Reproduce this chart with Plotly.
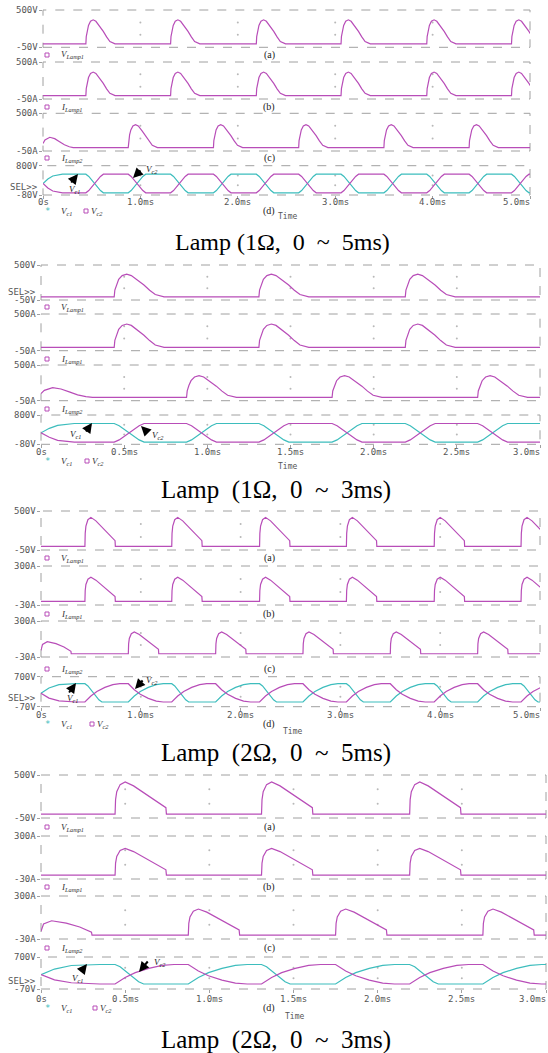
import plotly.graph_objects as go

W, H = 548, 1053
MAG = "#b84db8"
CYA = "#3dbdbd"
FRAME = "#a0a0a0"
TXT = "#555555"
MONO = "DejaVu Sans Mono"
SERIF = "Liberation Serif"

# ---------------- data (times in ms) ----------------
# switching instants that start a Lamp1 pulse / a Lamp2 pulse
lamp1_on_5ms = [0.44, 1.31, 2.19, 3.06, 3.94, 4.81]
lamp2_on_5ms = [0.875, 1.75, 2.625, 3.50, 4.375]
lamp1_on_3ms = [0.44, 1.31, 2.19]
lamp2_on_3ms = [0.875, 1.75, 2.625]

# pulse shape, 1 ohm lamp: time after switching, fraction of the peak
pulse_1ohm_dt = [0.0, 0.004, 0.014, 0.027, 0.048, 0.075, 0.103, 0.144, 0.179, 0.213, 0.247, 0.30]
pulse_1ohm_fr = [0.0, 0.30, 0.55, 0.77, 0.94, 1.00, 0.94, 0.72, 0.52, 0.29, 0.10, 0.0]
# pulse shape, 2 ohm lamp (ends with a step)
pulse_2ohm_dt = [0.0, 0.003, 0.010, 0.030, 0.060, 0.110, 0.170, 0.230, 0.290, 0.302, 0.305]
pulse_2ohm_fr = [0.0, 0.45, 0.70, 0.92, 1.00, 0.88, 0.66, 0.44, 0.24, 0.20, 0.0]

# peaks
peak_1ohm_v, peak_1ohm_i1, peak_1ohm_i2 = 355, 350, 335
peak_2ohm_v, peak_2ohm_i1, peak_2ohm_i2 = 410, 205, 200

# Lamp2 current at the start of the run
ilamp2_start_1ohm_t = [0.0, 0.02, 0.07, 0.12, 0.17, 0.22, 0.27, 0.31]
ilamp2_start_1ohm_v = [60, 110, 150, 130, 85, 40, 12, 0]
ilamp2_start_2ohm_t = [0.0, 0.015, 0.063, 0.15, 0.23, 0.30, 0.303]
ilamp2_start_2ohm_v = [30, 85, 110, 92, 62, 22, 0]

# capacitor voltages: levels and start of run
vc_1ohm_lo, vc_1ohm_hi = -15, 545
vc_1ohm_start_t = [0.0, 0.05, 0.10, 0.20]
vc1_1ohm_start = [265, 400, 490, 545]
vc2_1ohm_start = [265, 130, 40, -15]
vc_2ohm_lo, vc_2ohm_hi = 50, 520
vc_2ohm_start_t = [0.0, 0.08, 0.18, 0.30, 0.35]
vc1_2ohm_start = [275, 410, 495, 520, 520]
vc2_2ohm_start = [275, 150, 80, 55, 50]

# transition shapes (time after switching, fraction of swing done)
tr_1ohm_dt = [0.0, 0.03, 0.15, 0.18]
tr_1ohm_fr = [0.0, 0.12, 0.88, 1.0]
tr_2ohm_fast_dt = [0.0, 0.03, 0.14, 0.17]
tr_2ohm_fast_fr = [0.0, 0.12, 0.88, 1.0]
tr_2ohm_slow_dt = [0.0, 0.06, 0.12, 0.20, 0.28, 0.35]
tr_2ohm_slow_fr = [0.0, 0.33, 0.58, 0.80, 0.95, 1.0]

# axis tick labels
xt_5ms = [0, 1, 2, 3, 4, 5]
xt_5ms_lbl = ["0s", "1.0ms", "2.0ms", "3.0ms", "4.0ms", "5.0ms"]
xt_3ms = [0, 0.5, 1.0, 1.5, 2.0, 2.5, 3.0]
xt_3ms_lbl = ["0s", "0.5ms", "1.0ms", "1.5ms", "2.0ms", "2.5ms", "3.0ms"]
rng_v500 = [-50, 500]
rng_a500 = [-50, 500]
rng_a300 = [-30, 300]
rng_v800 = [-80, 800]
rng_v700 = [-70, 700]
lbl_v500 = ["-50V", "500V"]
lbl_a500 = ["-50A", "500A"]
lbl_a300 = ["-30A", "300A"]
lbl_v800 = ["-80V", "800V"]
lbl_v700 = ["-70V", "700V"]

captions = ["Lamp (1Ω,  0  ~  5ms)", "Lamp  (1Ω,  0  ~  3ms)", "Lamp  (2Ω,  0  ~  5ms)", "Lamp  (2Ω,  0  ~  3ms)"]


# ---------------- builders ----------------
def lamp_series(onsets, dt, fr, peak, tmax, start_t=None, start_v=None):
    xs, ys = ([0.0], [0.0]) if start_t is None else (list(start_t), list(start_v))
    for t0 in onsets:
        for d, f in zip(dt, fr):
            xs.append(t0 + d)
            ys.append(peak * f)
    xs.append(tmax + 0.2)
    ys.append(0.0)
    return xs, ys


def vc_series(start_t, start_v, a_ev, c_ev, a_shape, c_shape, a_dir, lo, hi, tmax):
    xs, ys = list(start_t), list(start_v)
    ev = sorted([(t, "a") for t in a_ev] + [(t, "c") for t in c_ev])
    for t0, k in ev:
        dt, fr = a_shape if k == "a" else c_shape
        up = (a_dir > 0) == (k == "a")
        for d, f in zip(dt, fr):
            xs.append(t0 + d)
            ys.append(lo + (hi - lo) * f if up else hi - (hi - lo) * f)
    xs.append(tmax + 0.2)
    ys.append(ys[-1])
    return xs, ys


fig = go.Figure()
layout = dict(width=W, height=H, margin=dict(l=0, r=0, t=0, b=0), paper_bgcolor="white",
              plot_bgcolor="white", showlegend=False)
annotations, shapes = [], []
counter = [0]


def px(x):
    return x / W


def py(y):
    return 1 - y / H


def txt(x, y, s, size=9, color=TXT, family=MONO, xanchor="center", yanchor="middle"):
    annotations.append(dict(x=px(x), y=py(y), xref="paper", yref="paper", text=s, showarrow=False,
                            font=dict(family=family, size=size, color=color),
                            xanchor=xanchor, yanchor=yanchor, borderpad=0))


def panel(xl, xr, top, bot, rng, ylbl, series, xt, tmax, bottom_axis):
    counter[0] += 1
    i = counter[0]
    s = "" if i == 1 else str(i)
    xr_, yr_ = "x" + s, "y" + s
    layout["xaxis" + s] = dict(domain=[px(xl), px(xr)], range=[0, tmax], anchor=yr_, showgrid=False,
                               zeroline=False, showline=False, showticklabels=False,
                               ticks="outside" if bottom_axis else "", tickvals=xt, ticklen=3,
                               tickcolor=FRAME, fixedrange=True)
    layout["yaxis" + s] = dict(domain=[py(bot), py(top)], range=rng, anchor=xr_, showgrid=False,
                               zeroline=False, showline=False, showticklabels=False, ticks="outside",
                               tickvals=rng, ticklen=3, tickcolor=FRAME, fixedrange=True)
    shapes.append(dict(type="rect", xref=xr_ + " domain", yref=yr_ + " domain", x0=0, x1=1, y0=0, y1=1,
                       line=dict(color=FRAME, width=1, dash="dash"), layer="below"))
    gx, gy = [], []
    for v in xt[1:-1]:
        for k in (1, 2):
            gx.append(v)
            gy.append(rng[0] + (rng[1] - rng[0]) * k / 3)
    fig.add_trace(go.Scatter(x=gx, y=gy, mode="markers", marker=dict(size=2, color="#b8b8b8"),
                             xaxis=xr_, yaxis=yr_, hoverinfo="skip"))
    for (x, y, c) in series:
        fig.add_trace(go.Scatter(x=x, y=y, mode="lines", line=dict(color=c, width=1.2),
                                 xaxis=xr_, yaxis=yr_, hoverinfo="skip"))
    txt(xl - 4, top, ylbl[1], xanchor="right")
    txt(xl - 4, bot, ylbl[0], xanchor="right")


def square(x, y, color=MAG):
    shapes.append(dict(type="rect", xref="paper", yref="paper", x0=px(x - 2), x1=px(x + 2),
                       y0=py(y + 2), y1=py(y - 2), line=dict(color=color, width=1)))


def legend_row(y, label, letter):
    square(47, y)
    txt(60, y, label, size=9, color="#333", family=SERIF, xanchor="left")
    if letter:
        txt(269, y, letter, size=10, color="#222", family=SERIF)


def vc_legend(y, x_sq, x_lab2, letter):
    txt(47, y, "*", size=9, color=CYA)
    txt(60, y, "<i>V<sub>c1</sub></i>", size=9, color="#333", family=SERIF, xanchor="left")
    square(x_sq, y)
    txt(x_lab2, y, "<i>V<sub>c2</sub></i>", size=9, color="#333", family=SERIF, xanchor="left")
    if letter:
        txt(269, y, letter, size=10, color="#222", family=SERIF)


def arrow(head, tail, lab_pos, lab):
    annotations.append(dict(x=px(head[0]), y=py(head[1]), xref="paper", yref="paper", text="",
                            showarrow=True, ax=tail[0] - head[0], ay=tail[1] - head[1],
                            arrowhead=2, arrowsize=1, arrowwidth=2, arrowcolor="black"))
    txt(lab_pos[0], lab_pos[1], "<i>V<sub>%s</sub></i>" % lab, size=9, color="#222", family=SERIF)


def block(cfg):
    xl, xr, tmax, xt, xtl = cfg["xl"], cfg["xr"], cfg["tmax"], cfg["xt"], cfg["xtl"]
    (ta, ba), (tb, bb), (tc, bc), (td, bd) = cfg["rows"]
    panel(xl, xr, ta, ba, cfg["rng"][0], cfg["lbl"][0], [cfg["a"]], xt, tmax, False)
    panel(xl, xr, tb, bb, cfg["rng"][1], cfg["lbl"][1], [cfg["b"]], xt, tmax, False)
    panel(xl, xr, tc, bc, cfg["rng"][2], cfg["lbl"][2], [cfg["c"]], xt, tmax, False)
    panel(xl, xr, td, bd, cfg["rng"][3], cfg["lbl"][3], [cfg["d1"], cfg["d2"]], xt, tmax, True)
    ly = cfg["legend_y"]
    let = cfg["letters"]
    legend_row(ly[0], "<i>V<sub>Lamp1</sub></i>", "(a)" if let else None)
    legend_row(ly[1], "<i>I<sub>Lamp1</sub></i>", "(b)" if let else None)
    legend_row(ly[2], "<i>I<sub>Lamp2</sub></i>", "(c)" if let else None)
    vc_legend(ly[3], cfg["vc_sq"], cfg["vc_sq"] + 4, "(d)" if let else None)
    scale = (xr - xl) / tmax
    for j, (v, s) in enumerate(zip(xt, xtl)):
        xa = "right" if j == len(xt) - 1 else "center"
        xx = xr + 1 if j == len(xt) - 1 else xl + v * scale
        txt(xx, cfg["xtick_y"], s, xanchor=xa)
    txt(cfg["time"][0], cfg["time"][1], "Time", size=8)
    txt(xl - 4, cfg["sel_y"], "SEL>>", xanchor="right")
    arrow(*cfg["arr1"], "c1")
    arrow(*cfg["arr2"], "c2")
    txt(cfg["cap"][0], cfg["cap"][1], captions[cfg["idx"]], size=cfg["cap_size"], color="black",
        family=SERIF)


# ----- series -----
def series_1ohm(a_on, c_on, tmax):
    va = lamp_series(a_on, pulse_1ohm_dt, pulse_1ohm_fr, peak_1ohm_v, tmax)
    ib = lamp_series(a_on, pulse_1ohm_dt, pulse_1ohm_fr, peak_1ohm_i1, tmax)
    ic = lamp_series(c_on, pulse_1ohm_dt, pulse_1ohm_fr, peak_1ohm_i2, tmax,
                     ilamp2_start_1ohm_t, ilamp2_start_1ohm_v)
    tr = (tr_1ohm_dt, tr_1ohm_fr)
    v1 = vc_series(vc_1ohm_start_t, vc1_1ohm_start, a_on, c_on, tr, tr, -1, vc_1ohm_lo, vc_1ohm_hi, tmax)
    v2 = vc_series(vc_1ohm_start_t, vc2_1ohm_start, a_on, c_on, tr, tr, 1, vc_1ohm_lo, vc_1ohm_hi, tmax)
    return va, ib, ic, v1, v2


def series_2ohm(a_on, c_on, tmax):
    va = lamp_series(a_on, pulse_2ohm_dt, pulse_2ohm_fr, peak_2ohm_v, tmax)
    ib = lamp_series(a_on, pulse_2ohm_dt, pulse_2ohm_fr, peak_2ohm_i1, tmax)
    ic = lamp_series(c_on, pulse_2ohm_dt, pulse_2ohm_fr, peak_2ohm_i2, tmax,
                     ilamp2_start_2ohm_t, ilamp2_start_2ohm_v)
    fast = (tr_2ohm_fast_dt, tr_2ohm_fast_fr)
    slow = (tr_2ohm_slow_dt, tr_2ohm_slow_fr)
    v1 = vc_series(vc_2ohm_start_t, vc1_2ohm_start, a_on, c_on, fast, slow, -1, vc_2ohm_lo, vc_2ohm_hi, tmax)
    v2 = vc_series(vc_2ohm_start_t, vc2_2ohm_start, a_on, c_on, slow, slow, 1, vc_2ohm_lo, vc_2ohm_hi, tmax)
    return va, ib, ic, v1, v2


def make_cfg(idx, ser, **kw):
    va, ib, ic, v1, v2 = ser
    d = dict(idx=idx, a=(va[0], va[1], MAG), b=(ib[0], ib[1], MAG), c=(ic[0], ic[1], MAG),
             d1=(v1[0], v1[1], CYA), d2=(v2[0], v2[1], MAG))
    d.update(kw)
    return d


blocks = [
    make_cfg(0, series_1ohm(lamp1_on_5ms, lamp2_on_5ms, 5.0),
             xl=43, xr=530, tmax=5.0, xt=xt_5ms, xtl=xt_5ms_lbl,
             rows=[(10, 47.3), (62, 99), (113.3, 151), (165.7, 195)],
             rng=[rng_v500, rng_a500, rng_a500, rng_v800], lbl=[lbl_v500, lbl_a500, lbl_a500, lbl_v800],
             legend_y=[55, 107, 158, 211], letters=True, vc_sq=86, xtick_y=202, time=(287, 217),
             sel_y=186.7, arr1=((78, 174), (70, 184), (74, 189)), arr2=((133, 178), (142, 169), (152, 169)),
             cap=(282, 242), cap_size=24),
    make_cfg(1, series_1ohm(lamp1_on_3ms, lamp2_on_3ms, 3.0),
             xl=41, xr=540, tmax=3.0, xt=xt_3ms, xtl=xt_3ms_lbl,
             rows=[(265, 300), (314, 350.7), (365, 400.7), (415, 444.3)],
             rng=[rng_v500, rng_a500, rng_a500, rng_v800], lbl=[lbl_v500, lbl_a500, lbl_a500, lbl_v800],
             legend_y=[307, 359, 409, 461], letters=False, vc_sq=87, xtick_y=452, time=(287, 467),
             sel_y=292, arr1=((92, 423), (85, 433), (75, 435)), arr2=((141, 426), (149, 434), (158, 436)),
             cap=(276, 490), cap_size=25),
    make_cfg(2, series_2ohm(lamp1_on_5ms, lamp2_on_5ms, 5.0),
             xl=41, xr=540, tmax=5.0, xt=xt_5ms, xtl=xt_5ms_lbl,
             rows=[(511, 550), (566, 605), (621, 657), (676.7, 706.7)],
             rng=[rng_v500, rng_a300, rng_a300, rng_v700], lbl=[lbl_v500, lbl_a300, lbl_a300, lbl_v700],
             legend_y=[558, 614, 669, 724], letters=True, vc_sq=92, xtick_y=715, time=(292, 731),
             sel_y=698, arr1=((76, 683), (68, 694), (72, 698)), arr2=((135, 689), (144, 679), (152, 680)),
             cap=(276, 753), cap_size=25),
    make_cfg(3, series_2ohm(lamp1_on_3ms, lamp2_on_3ms, 3.0),
             xl=41, xr=546, tmax=3.0, xt=xt_3ms, xtl=xt_3ms_lbl,
             rows=[(775, 818), (836, 879), (896, 939), (957, 989)],
             rng=[rng_v500, rng_a300, rng_a300, rng_v700], lbl=[lbl_v500, lbl_a300, lbl_a300, lbl_v700],
             legend_y=[827, 887, 948, 1008], letters=True, vc_sq=95, xtick_y=999, time=(294, 1016),
             sel_y=981, arr1=((87, 964), (80, 973), (77, 978)), arr2=((139, 972), (149, 960), (160, 962)),
             cap=(276, 1040), cap_size=25),
]

for b in blocks:
    block(b)

layout["annotations"] = annotations
layout["shapes"] = shapes
fig.update_layout(**layout)
fig.write_html("out.html", config={"displayModeBar": False, "staticPlot": True},
               post_script="document.body.style.margin='0px';document.body.style.overflow='hidden';")
